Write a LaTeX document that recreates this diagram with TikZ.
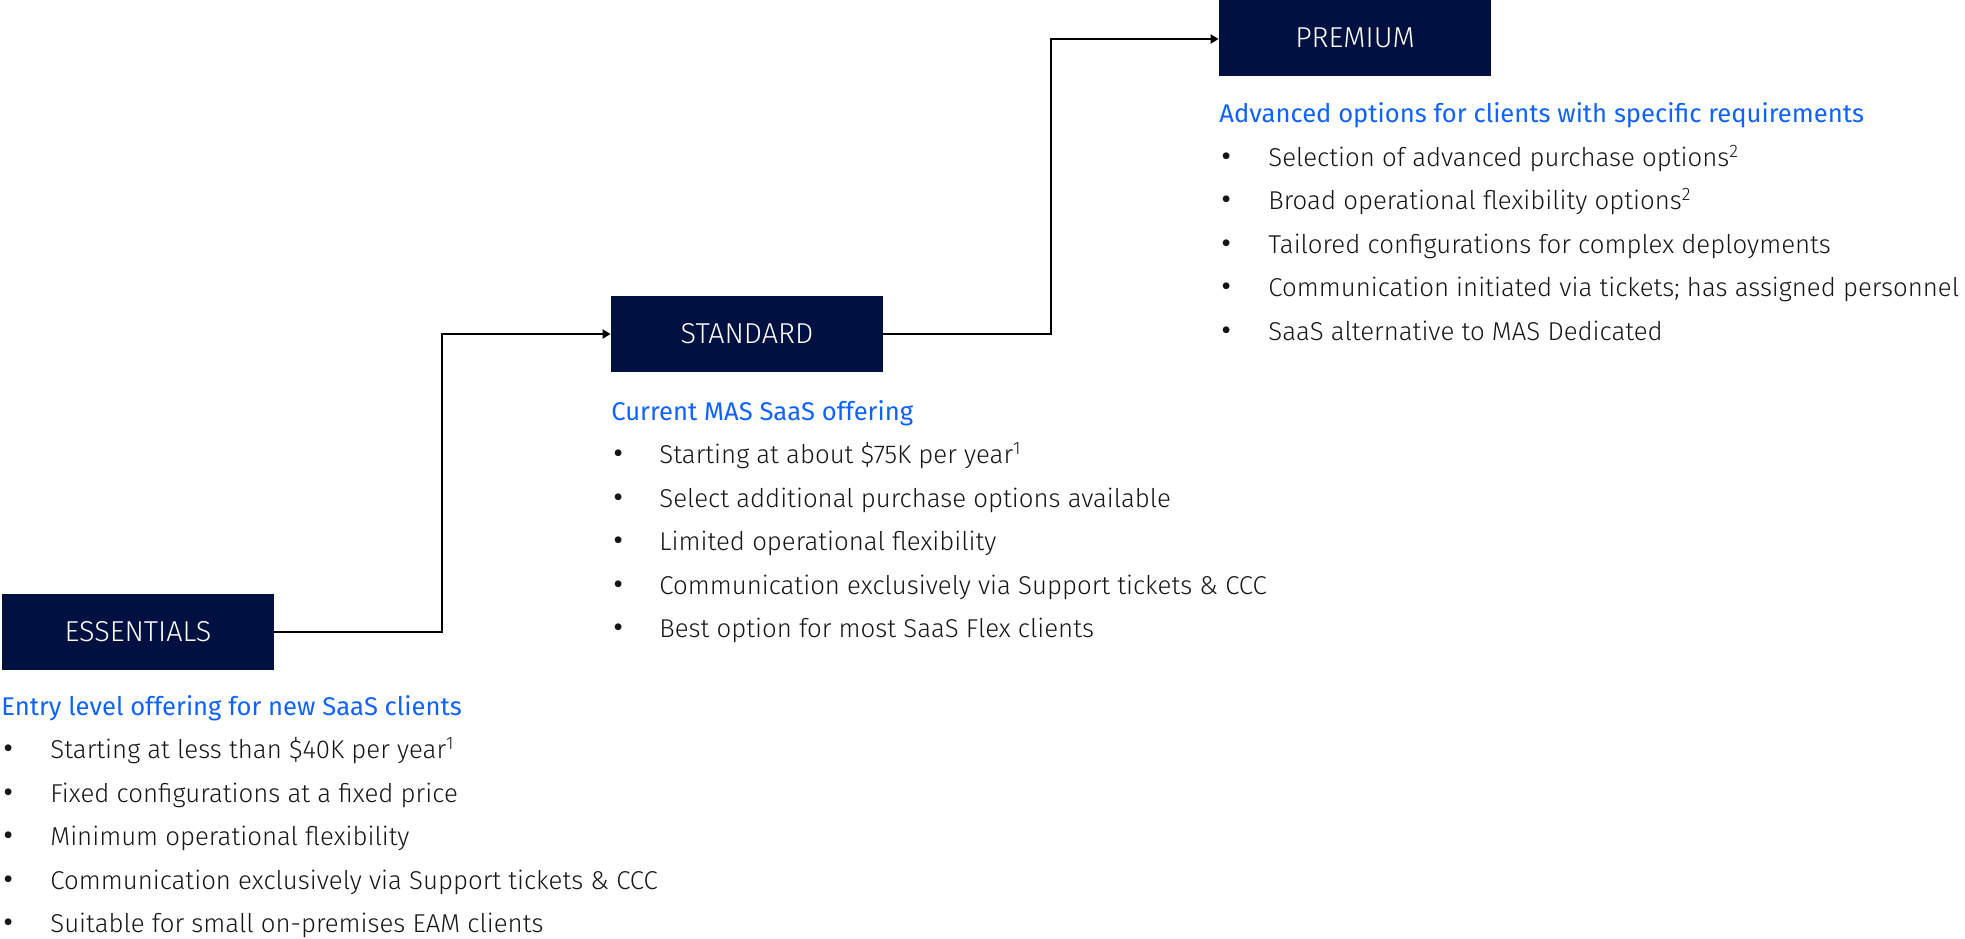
\documentclass[tikz,border=0pt]{standalone}
\usepackage{fontspec}
\setmainfont{Fira Sans}[UprightFont=* Light]
\newfontfamily\plainfont{Fira Sans}
\usetikzlibrary{arrows.meta}

\definecolor{boxnavy}{HTML}{001141}
\definecolor{leadblue}{HTML}{0F62FE}
\definecolor{bodyink}{HTML}{161616}

\newcommand{\tierfont}{\fontsize{14.4}{16}\selectfont}
\newcommand{\leadfont}{\plainfont\fontsize{12.8}{15}\selectfont}
\newcommand{\itemfont}{\fontsize{12.9}{15}\selectfont}
\newcommand{\dotfont}{\plainfont\fontsize{15}{15}\selectfont}

\tikzset{
  tier/.style={fill=boxnavy, text=white, minimum width=136pt,
    minimum height=38pt, inner sep=0pt, font=\tierfont},
  lead/.style={anchor=base west, inner sep=0pt, text=leadblue, font=\leadfont},
  item/.style={anchor=base west, inner sep=0pt, text=bodyink, font=\itemfont},
  dot/.style={anchor=base west, inner sep=0pt, text=bodyink, font=\dotfont},
  link/.style={draw=black, line width=1.2pt,
    -{Triangle[length=4pt,width=4.5pt]}}
}

\begin{document}
\begin{tikzpicture}[x=0.5pt, y=-0.5pt]
  \useasboundingbox (0,0) rectangle (1965,938);

  % the three tiers
  \node[tier] (ess) at (138,632) {ESSENTIALS};
  \node[tier] (std) at (747,334) {STANDARD};
  \node[tier] (prem) at (1355,38) {PREMIUM};

  % steps between tiers
  \coordinate (bend1) at (442,334);
  \coordinate (bend2) at (1051,39);
  \draw[link] (ess.east) -| (bend1) -- (std.west);
  \draw[link] (std.east) -| (bend2) -- (prem.west |- bend2);

  % essentials
  \node[lead] (ess-lead) at (1,715) {Entry level offering for new SaaS clients};
  \foreach \txt [count=\i] in {
      Starting at less than \$40K per year\textsuperscript{1},
      Fixed configurations at a fixed price,
      Minimum operational flexibility,
      Communication exclusively via Support tickets \& CCC,
      Suitable for small on-premises EAM clients}
  {
    \node[dot] (ess-dot-\i) at (3,715+43.5*\i) {•};
    \node[item] (ess-\i) at (50,715+43.5*\i) {\txt};
  }

  % standard
  \node[lead] (std-lead) at (611,420) {Current MAS SaaS offering};
  \foreach \txt [count=\i] in {
      Starting at about \$75K per year\textsuperscript{1},
      Select additional purchase options available,
      Limited operational flexibility,
      Communication exclusively via Support tickets \& CCC,
      Best option for most SaaS Flex clients}
  {
    \node[dot] (std-dot-\i) at (613,420+43.5*\i) {•};
    \node[item] (std-\i) at (659,420+43.5*\i) {\txt};
  }

  % premium
  \node[lead] (prem-lead) at (1219,122.5) {Advanced options for clients with specific requirements};
  \foreach \txt [count=\i] in {
      Selection of advanced purchase options\textsuperscript{2},
      Broad operational flexibility options\textsuperscript{2},
      Tailored configurations for complex deployments,
      Communication initiated via tickets; has assigned personnel,
      SaaS alternative to MAS Dedicated}
  {
    \node[dot] (prem-dot-\i) at (1221,122.5+43.5*\i) {•};
    \node[item] (prem-\i) at (1268,122.5+43.5*\i) {\txt};
  }
\end{tikzpicture}
\end{document}
